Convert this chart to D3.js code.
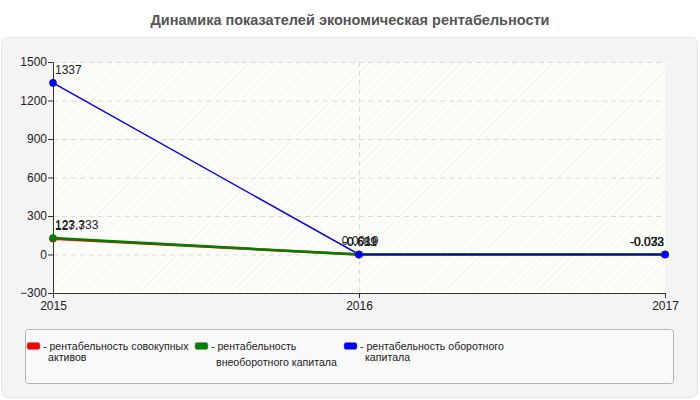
<!DOCTYPE html>
<html>
<head>
<meta charset="utf-8">
<script src="https://cdn.jsdelivr.net/npm/d3@7"></script>
<style>
  body { margin: 0; background: #fff; font-family: Arial, "Liberation Sans", sans-serif; }
  svg { display: block; }
</style>
</head>
<body>
<svg id="gfx" width="700" height="400"></svg>
<script>
const years = [2015, 2016, 2017];
const yTicks = [-300, 0, 300, 600, 900, 1200, 1500];
const seriesNames = [
    ["- рентабельность совокупных", "активов"],
    ["- рентабельность", "внеоборотного капитала"],
    ["- рентабельность оборотного", "капитала"]
];
const seriesColors = ["#ff0000", "#008000", "#0000ff"];
const seriesLabels = [
    ["127.7", "-0.681", "-0.073"],
    ["123.333", "-0.619", "-0.032"],
    ["1337", "0.0019", "-0.033"]
];
const redValues = [123.3, -0.681, -0.073];
const greenValues = [127.7, -0.619, -0.032];
const blueValues = [1337, 0.0019, -0.033];
const allValues = [redValues, greenValues, blueValues];

const svg = d3.select("#gfx");

// title
svg.append("text")
    .attr("x", 350).attr("y", 25)
    .attr("text-anchor", "middle")
    .attr("font-size", 14.5).attr("font-weight", "bold")
    .attr("fill", "#555")
    .text("Динамика показателей экономическая рентабельности");

// panel
svg.append("rect")
    .attr("x", 1.5).attr("y", 37.5).attr("width", 696).attr("height", 360)
    .attr("rx", 6)
    .attr("fill", "#f4f4f4").attr("stroke", "#e6e6e6");

const plot = { left: 53, right: 665, top: 62, bottom: 293 };

const x = d3.scalePoint().domain(years).range([plot.left, plot.right]);
const y = d3.scaleLinear().domain([-300, 1500]).range([plot.bottom, plot.top]);

// hatch pattern for plot background
const defs = svg.append("defs");
const pat = defs.append("pattern")
    .attr("id", "hatch").attr("patternUnits", "userSpaceOnUse")
    .attr("width", 5).attr("height", 5)
    .attr("patternTransform", "rotate(45)");
pat.append("rect").attr("width", 5).attr("height", 5).attr("fill", "#fdfdfa");
pat.append("line").attr("x1", 0).attr("y1", 0).attr("x2", 0).attr("y2", 5)
    .attr("stroke", "#f1f1ee").attr("stroke-width", 1);

svg.append("rect")
    .attr("x", plot.left).attr("y", plot.top)
    .attr("width", plot.right - plot.left).attr("height", plot.bottom - plot.top)
    .attr("fill", "url(#hatch)");

// grid
const grid = svg.append("g").attr("class", "grid");
grid.selectAll("line.h")
    .data(yTicks.filter(d => d > -300))
    .enter().append("line")
    .attr("class", "h")
    .attr("x1", plot.left).attr("x2", plot.right)
    .attr("y1", d => y(d) + 0.5).attr("y2", d => y(d) + 0.5)
    .attr("stroke", "#dcdcdc").attr("stroke-dasharray", "5,4");
grid.selectAll("line.v")
    .data(years.slice(1, -1))
    .enter().append("line")
    .attr("class", "v")
    .attr("x1", d => x(d) + 0.5).attr("x2", d => x(d) + 0.5)
    .attr("y1", plot.top).attr("y2", plot.bottom)
    .attr("stroke", "#dcdcdc").attr("stroke-dasharray", "5,4");

// axes
const yAxis = svg.append("g")
    .attr("transform", "translate(" + plot.left + ",0)")
    .call(d3.axisLeft(y).tickValues(yTicks).tickSize(5).tickSizeOuter(0).tickFormat(d3.format("d")));
const xAxis = svg.append("g")
    .attr("transform", "translate(0," + plot.bottom + ")")
    .call(d3.axisBottom(x).tickSize(5).tickSizeOuter(0).tickFormat(d3.format("d")));

[yAxis, xAxis].forEach(a => {
    a.select(".domain").attr("stroke", "#333");
    a.selectAll(".tick line").attr("stroke", "#333");
    a.selectAll("text").attr("font-size", 12).attr("fill", "#222")
        .attr("font-family", "Arial, 'Liberation Sans', sans-serif");
});
yAxis.selectAll("text").attr("x", -6);
xAxis.selectAll("text").attr("y", 8);

// lines
const line = d3.line().x((d, i) => x(years[i])).y(d => y(d));
const lines = svg.append("g").attr("class", "lines");
allValues.forEach((vals, k) => {
    lines.append("path")
        .datum(vals)
        .attr("d", line)
        .attr("fill", "none")
        .attr("stroke", seriesColors[k])
        .attr("stroke-width", k === 2 ? 1.5 : 2.5);
});
allValues.forEach((vals, k) => {
    lines.selectAll("circle.s" + k)
        .data(vals)
        .enter().append("circle")
        .attr("class", "s" + k)
        .attr("cx", (d, i) => x(years[i]))
        .attr("cy", d => y(d))
        .attr("r", 3.8)
        .attr("fill", seriesColors[k]);
});

// value labels
const labels = svg.append("g").attr("class", "labels");
allValues.forEach((vals, k) => {
    labels.selectAll("text.s" + k)
        .data(vals)
        .enter().append("text")
        .attr("class", "s" + k)
        .attr("x", (d, i) => i === 0 ? x(years[i]) + 2 : (i === years.length - 1 ? x(years[i]) - 1 : x(years[i]) + 1))
        .attr("y", d => y(d) - 9)
        .attr("text-anchor", (d, i) => i === 0 ? "start" : (i === years.length - 1 ? "end" : "middle"))
        .attr("font-size", 12).attr("fill", "#222")
        .text((d, i) => seriesLabels[k][i]);
});

// legend
svg.append("rect")
    .attr("x", 25.5).attr("y", 329.5).attr("width", 648).attr("height", 54)
    .attr("rx", 3)
    .attr("fill", "#f9f9f9").attr("stroke", "#b4b4b4");

const legendX = [27, 195, 344];
const legend = svg.append("g").attr("class", "legend");
const items = legend.selectAll("g.item")
    .data(seriesNames)
    .enter().append("g")
    .attr("class", "item")
    .attr("transform", (d, i) => "translate(" + legendX[i] + ",340)");
items.append("rect")
    .attr("x", 0).attr("y", 2.5).attr("width", 13).attr("height", 7).attr("rx", 2)
    .attr("fill", (d, i) => seriesColors[i])
    .attr("stroke", "#888").attr("stroke-width", 0.5);
items.each(function (d, i) {
    const t = d3.select(this).append("text")
        .attr("font-size", 10.6).attr("fill", "#222");
    t.append("tspan").attr("x", 16).attr("y", 10).text(d[0]);
    t.append("tspan").attr("x", 21).attr("y", i === 1 ? 26 : 21).text(d[1]);
});
</script>
</body>
</html>
